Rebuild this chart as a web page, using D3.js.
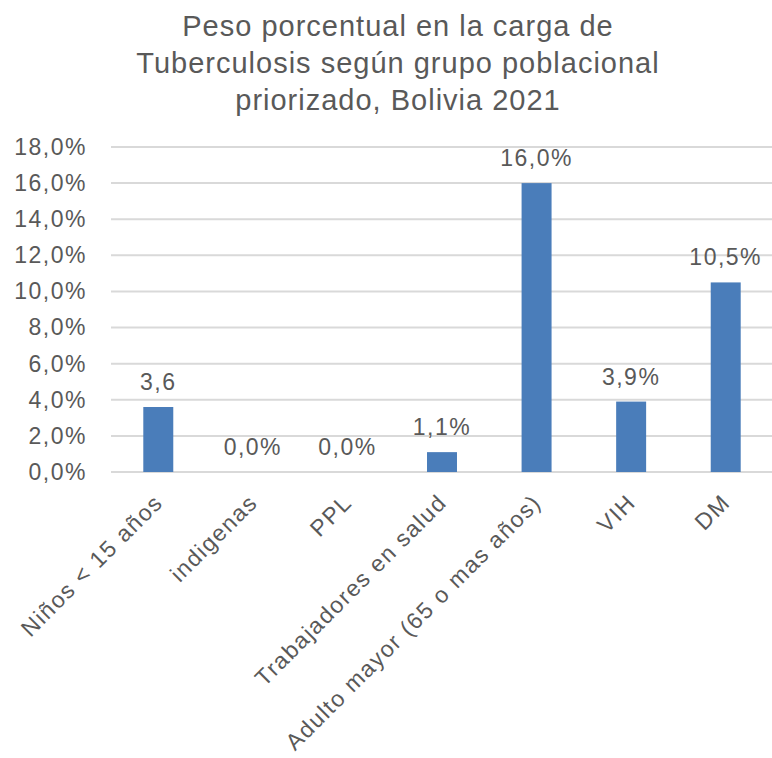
<!DOCTYPE html>
<html>
<head>
<meta charset="utf-8">
<script src="https://cdn.jsdelivr.net/npm/d3@7"></script>
<style>
  html, body { margin: 0; padding: 0; background: #ffffff; }
  svg { display: block; }
  text { font-family: "Liberation Sans", Arial, sans-serif; fill: #595959; }
</style>
</head>
<body>
<div id="chart"></div>
<script>
// Población priorizada y su peso porcentual en la carga de TB
const categories = [
  "Niños < 15 años",
  "indigenas",
  "PPL",
  "Trabajadores en salud",
  "Adulto mayor (65 o mas años)",
  "VIH",
  "DM"
];
const values = [3.6, 0.0, 0.0, 1.1, 16.0, 3.9, 10.5];
const valueLabels = ["3,6", "0,0%", "0,0%", "1,1%", "16,0%", "3,9%", "10,5%"];
const yTicks = [0, 2, 4, 6, 8, 10, 12, 14, 16, 18];
const titleLines = [
  "Peso porcentual en la carga de",
  "Tuberculosis  según  grupo poblacional",
  "priorizado, Bolivia 2021"
];

const W = 772, H = 758;
const svg = d3.select("#chart").append("svg")
  .attr("width", W).attr("height", H);

const x = d3.scaleBand()
  .domain(categories)
  .range([111, 773])
  .paddingInner(0.683)
  .paddingOuter(0.3415);

const y = d3.scaleLinear().domain([0, 18]).range([472, 147]);

const fmt = v => d3.format(".1f")(v).replace(".", ",") + "%";

// Título
svg.append("g").selectAll("text")
  .data(titleLines)
  .join("text")
  .attr("x", 398)
  .attr("y", (d, i) => 36 + i * 37)
  .attr("text-anchor", "middle")
  .style("font-size", "29px")
  .style("letter-spacing", "1px")
  .text(d => d);

// Líneas de cuadrícula horizontales
svg.append("g").selectAll("line")
  .data(yTicks)
  .join("line")
  .attr("x1", 111).attr("x2", W)
  .attr("y1", d => y(d)).attr("y2", d => y(d))
  .attr("stroke", "#d9d9d9")
  .attr("stroke-width", 2);

// Eje Y
const yAxis = svg.append("g")
  .attr("transform", "translate(87,0)")
  .call(d3.axisLeft(y).tickValues(yTicks).tickFormat(fmt).tickSize(0).tickPadding(0));
yAxis.select(".domain").remove();
yAxis.selectAll("text")
  .style("font-size", "23px")
  .style("letter-spacing", "1.5px")
  .style("font-family", "'Liberation Sans', Arial, sans-serif")
  .attr("fill", "#595959");

// Barras
svg.append("g").selectAll("rect")
  .data(values)
  .join("rect")
  .attr("x", (d, i) => x(categories[i]))
  .attr("width", x.bandwidth())
  .attr("y", d => y(d))
  .attr("height", d => y(0) - y(d))
  .attr("fill", "#4a7dba");

// Etiquetas de datos
svg.append("g").selectAll("text")
  .data(values)
  .join("text")
  .attr("x", (d, i) => x(categories[i]) + x.bandwidth() / 2)
  .attr("y", d => y(d) - 17)
  .attr("text-anchor", "middle")
  .style("font-size", "23px")
  .style("letter-spacing", "1.5px")
  .text((d, i) => valueLabels[i]);

// Eje X con etiquetas giradas
const xAxis = svg.append("g")
  .attr("transform", "translate(0,472)")
  .call(d3.axisBottom(x).tickSize(0).tickPadding(0));
xAxis.select(".domain").remove();
xAxis.selectAll("text")
  .attr("y", 0).attr("dy", 0)
  .attr("text-anchor", "end")
  .attr("transform", "translate(6,32) rotate(-45)")
  .style("font-size", "23px")
  .style("letter-spacing", "1.5px")
  .style("font-family", "'Liberation Sans', Arial, sans-serif")
  .attr("fill", "#595959");
</script>
</body>
</html>
